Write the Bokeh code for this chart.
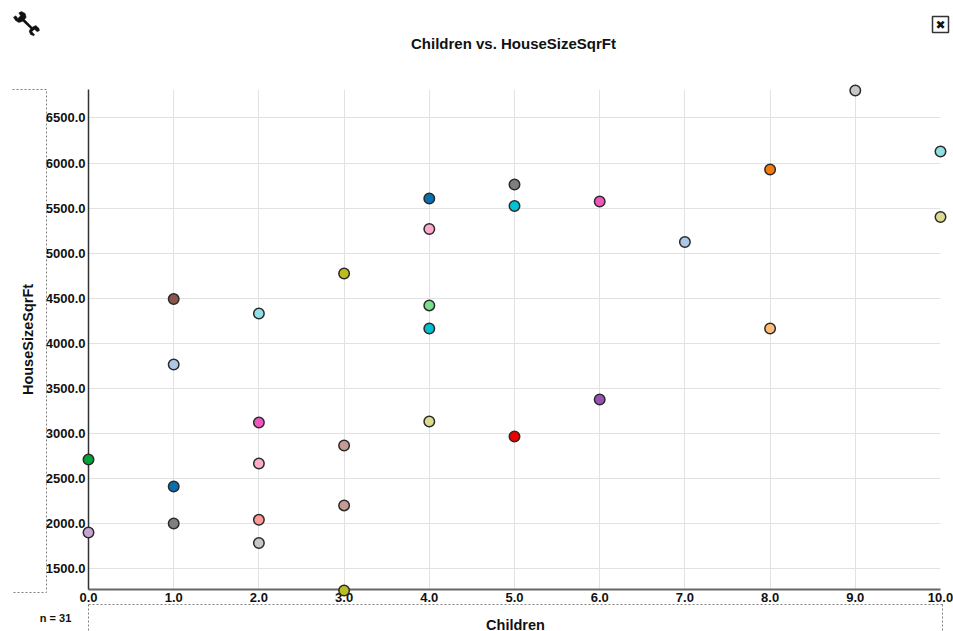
from bokeh.plotting import figure
from bokeh.embed import file_html
from bokeh.resources import INLINE
from bokeh.models import FixedTicker, NumeralTickFormatter, Range1d, ColumnDataSource
from bokeh.core.properties import value

title = "Children vs. HouseSizeSqrFt"
x_label = "Children"
y_label = "HouseSizeSqrFt"
n_label = "n = 31"
x_ticks = [0, 1, 2, 3, 4, 5, 6, 7, 8, 9, 10]
y_ticks = [1500, 2000, 2500, 3000, 3500, 4000, 4500, 5000, 5500, 6000, 6500]

children = [0, 0, 1, 1, 1, 1, 2, 2, 2, 2, 2, 3, 3, 3, 3, 4, 4, 4, 4, 4, 5, 5, 5, 6, 6, 7, 8, 8, 9, 10, 10]
house_size = [2710, 1900, 4490, 3764, 2410, 2000, 4330, 3120, 2665, 2040, 1783, 4774, 2865, 2200, 1256,
              5606, 5268, 4420, 4164, 3131, 5762, 5523, 2965, 5573, 3376, 5124, 5928, 4164, 6805, 6128, 5401]
colors = ["#00a33a", "#c5a5cf", "#8c564b", "#aec7e8", "#0a6fb0", "#7f7f7f", "#8fdfe5", "#f055c0", "#ffa9cc",
          "#ff9896", "#c7c7c7", "#bcbd22", "#c49c94", "#c49c94", "#bcbd22", "#0a6fb0", "#ffa9cc", "#78e08a",
          "#00bfd0", "#dbdb8d", "#7f7f7f", "#00c4d4", "#ee0000", "#f055c0", "#9a50b8", "#aec7e8", "#f57a0e",
          "#ffbb78", "#c7c7c7", "#8fdfe5", "#dbdb8d"]

FONT = "Liberation Sans"
X_MIN, X_MAX = 0, 10
Y_MIN, Y_MAX = 1267, 6816

p = figure(width=953, height=631, output_backend="svg", toolbar_location=None,
           x_range=Range1d(X_MIN, X_MAX), y_range=Range1d(Y_MIN, Y_MAX),
           min_border_left=88, min_border_right=13, min_border_top=89, min_border_bottom=42)
p.outline_line_color = None
# helper scale in page pixels, used only for the decorations round the plot
p.extra_x_ranges = {"px": Range1d(88, 940)}
p.extra_y_ranges = {"px": Range1d(589, 89)}
PX = dict(x_range_name="px", y_range_name="px", level="overlay")

p.xgrid.grid_line_color = "#e2e2e2"
p.ygrid.grid_line_color = "#e2e2e2"

for ax in (p.xaxis[0], p.yaxis[0]):
    ax.major_tick_line_color = None
    ax.minor_tick_line_color = None
    ax.major_label_text_font = FONT
    ax.major_label_text_font_style = "bold"
    ax.major_label_text_font_size = "13px"
    ax.major_label_text_color = "#111111"
    ax.major_tick_out = 0
    ax.major_tick_in = 0
    ax.formatter = NumeralTickFormatter(format="0.0")
    ax.major_label_standoff = 3
p.xaxis[0].ticker = FixedTicker(ticks=x_ticks)
p.yaxis[0].ticker = FixedTicker(ticks=y_ticks)
p.yaxis[0].axis_label = y_label
p.yaxis[0].axis_label_text_font = FONT
p.yaxis[0].axis_label_text_font_style = "bold"
p.yaxis[0].axis_label_text_font_size = "14.5px"
p.yaxis[0].axis_label_text_color = "#111111"
p.yaxis[0].axis_label_standoff = 7
p.xaxis[0].axis_line_color = "#666666"
p.xaxis[0].axis_line_width = 2
p.yaxis[0].axis_line_color = "#333333"
p.yaxis[0].axis_line_width = 1.5

src = ColumnDataSource(dict(x=children, y=house_size, c=colors))
r = p.scatter("x", "y", source=src, size=10.5, fill_color="c", line_color="#2a2a2a", line_width=1.5)
r.level = "overlay"


def label(text, x, y, size):
    p.text([x], [y], text=[text], text_font=value(FONT), text_font_style="bold", text_font_size=size,
           text_color="#111111", text_align="center", text_baseline="middle", **PX)


label(title, 513, 43, "15px")
label(x_label, 515, 624, "14.5px")
label(n_label, 55, 617, "11px")

# dashed frames of the reference's drag areas
dash = dict(line_color="#808080", line_dash="2 2", line_width=1, **PX)
p.line([12, 46, 46, 12], [89, 89, 592, 592], **dash)
p.line([88, 88], [630, 604], **dash)
p.line([88, 942], [604, 604], **dash)
p.line([942, 942], [604, 630], **dash)

# close box
p.quad(left=[932], right=[948], top=[16], bottom=[32], fill_color="white", line_color="#333333",
       line_width=1.5, **PX)
p.text([940], [24.5], text=["\u2716"], text_font=value("DejaVu Sans"), text_font_size="12px",
       text_color="#111111", text_align="center", text_baseline="middle", **PX)

# wrench icon
w = [(55, 37), (63, 33), (74, 39), (77, 50), (72, 57), (95, 80), (106, 75), (115, 83), (117, 90), (110, 94),
     (102, 86), (94, 94), (102, 102), (100, 106), (90, 102), (86, 92), (90, 84), (67, 62), (55, 66), (45, 60),
     (39, 50), (46, 46), (52, 54), (60, 46)]
p.patch([a / 3 for a, _ in w], [b / 3 for _, b in w], fill_color="#111111", line_color="#111111", line_width=0.5, **PX)

open("out.html", "w").write(file_html(p, INLINE))
